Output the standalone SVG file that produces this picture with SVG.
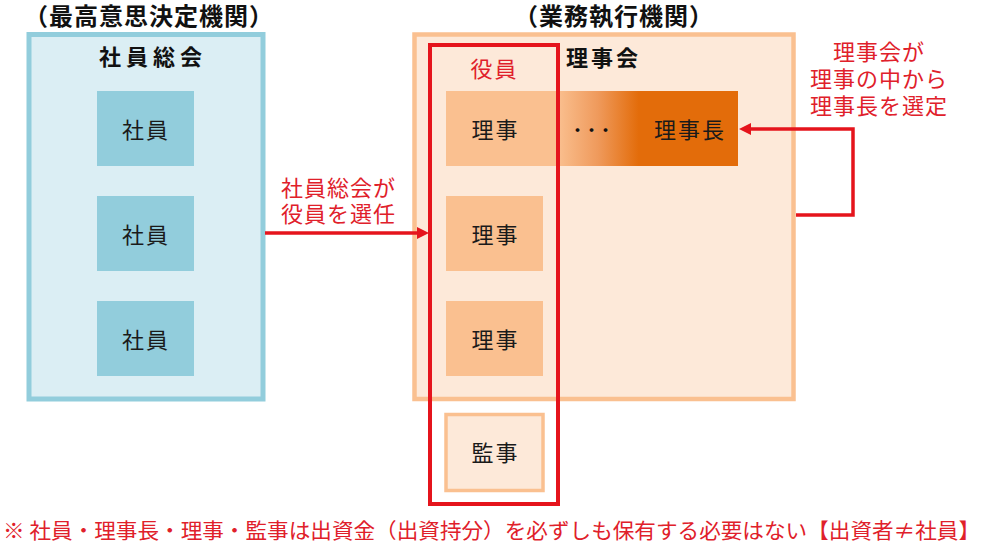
<svg xmlns="http://www.w3.org/2000/svg" width="988" height="551" viewBox="0 0 988 551">
<style>
text { font-family: "Noto Sans CJK JP", "Noto Sans", sans-serif; }
.h { font-size: 24px; font-weight: bold; fill: #111; text-anchor: middle; }
.b { font-size: 22px; font-weight: bold; fill: #111; }
.t { font-size: 22px; fill: #1a1a1a; text-anchor: middle; letter-spacing: 2px; }
.r { font-size: 22px; fill: #e0202a; letter-spacing: 1px; }
.blueBox { fill: #dbeef4; stroke: #92cddc; stroke-width: 5; }
.blueNode { fill: #92cddc; }
.orgBox { fill: #fde9d9; stroke: #fac090; stroke-width: 4.5; }
.orgNode { fill: #fac090; }
.conn { fill: none; stroke: #e5141c; stroke-width: 3.5; }
</style>
<defs>
<linearGradient id="grad" x1="446" y1="0" x2="738" y2="0" gradientUnits="userSpaceOnUse">
<stop offset="0.38" stop-color="#fac090"/>
<stop offset="0.52" stop-color="#ef9a5c"/>
<stop offset="0.66" stop-color="#e36c0a"/>
<stop offset="1" stop-color="#e36c0a"/>
</linearGradient>
<marker id="ah" markerUnits="userSpaceOnUse" markerWidth="14" markerHeight="14" refX="1" refY="6" orient="auto">
<path d="M0,0 L12,6 L0,12 z" fill="#e5141c"/>
</marker>
</defs>
<rect width="988" height="551" fill="#ffffff"/>

<text class="h" x="149" y="25" letter-spacing="1">（最高意思決定機関）</text>
<text class="h" x="614" y="25" letter-spacing="1">（業務執行機関）</text>

<g id="general-meeting">
<rect class="blueBox" x="29" y="34.5" width="234" height="364.5"/>
<text class="b" x="153" y="65" text-anchor="middle" letter-spacing="5">社員総会</text>
</g>
<g id="member1"><rect class="blueNode" x="97" y="91" width="97" height="75"/><text class="t" x="146" y="138">社員</text></g>
<g id="member2"><rect class="blueNode" x="97" y="196" width="97" height="75"/><text class="t" x="146" y="243">社員</text></g>
<g id="member3"><rect class="blueNode" x="97" y="301" width="97" height="75"/><text class="t" x="146" y="348">社員</text></g>

<g id="board">
<rect class="orgBox" x="414.5" y="34.5" width="379" height="364.5"/>
<text class="b" x="566" y="66" letter-spacing="3">理事会</text>
</g>
<g id="chair-row">
<rect x="446" y="91" width="292" height="75" fill="url(#grad)"/>
<text class="t" x="495.5" y="138">理事</text>
<text x="591" y="136" font-size="15" font-weight="bold" fill="#111" text-anchor="middle" letter-spacing="-1">・・・</text>
<text class="t" x="690" y="138">理事長</text>
</g>
<g id="director2"><rect class="orgNode" x="446" y="196" width="97" height="75"/><text class="t" x="495.5" y="243">理事</text></g>
<g id="director3"><rect class="orgNode" x="446" y="301" width="97" height="75"/><text class="t" x="495.5" y="348">理事</text></g>
<g id="auditor"><rect x="446" y="414.5" width="97" height="76" fill="#fde9d9" stroke="#fac090" stroke-width="3.5"/><text class="t" x="495.5" y="461">監事</text></g>

<g id="officers">
<rect x="430" y="45" width="128" height="459" fill="none" stroke="#e5141c" stroke-width="4"/>
<text class="t" x="494.5" y="77" style="fill:#e0202a">役員</text>
</g>

<g id="connectors">
<path class="conn" d="M265,233 L418,233" marker-end="url(#ah)"/>
<path class="conn" d="M796,215 L853,215 L853,129 L750,129" marker-end="url(#ah)"/>
</g>

<g id="labels">
<text class="r" x="281" y="196">社員総会が</text>
<text class="r" x="281" y="222">役員を選任</text>
<text class="r" x="879" y="60" text-anchor="middle">理事会が</text>
<text class="r" x="879" y="87" text-anchor="middle">理事の中から</text>
<text class="r" x="879" y="114" text-anchor="middle">理事長を選定</text>
<text x="3" y="538" font-size="21" fill="#e0202a" textLength="977" lengthAdjust="spacingAndGlyphs">※ 社員・理事長・理事・監事は出資金（出資持分）を必ずしも保有する必要はない【出資者≠社員】</text>
</g>
</svg>
